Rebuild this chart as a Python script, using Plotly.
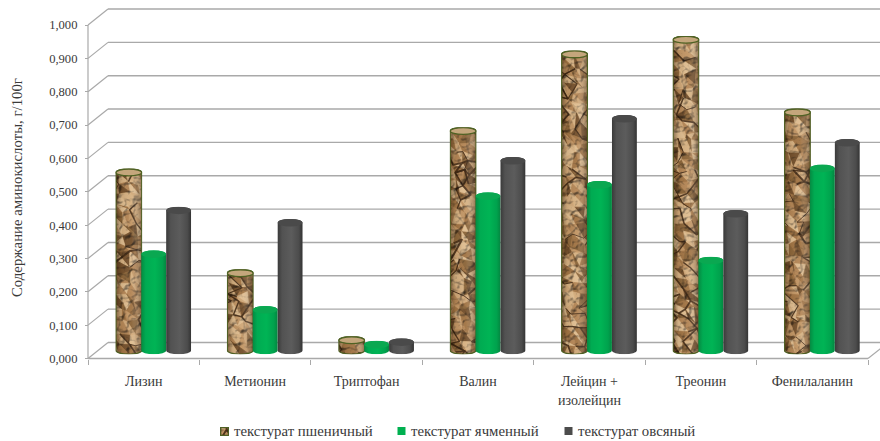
import base64
import math
import plotly.graph_objects as go

# Amino acid content of textured cereal products, g per 100 g
categories = ["Лизин", "Метионин", "Триптофан", "Валин", "Лейцин +<br>изолейцин", "Треонин", "Фенилаланин"]
wheat = [0.534, 0.232, 0.031, 0.658, 0.888, 0.932, 0.714]
barley = [0.289, 0.122, 0.018, 0.463, 0.497, 0.270, 0.546]
oat = [0.420, 0.383, 0.025, 0.569, 0.695, 0.410, 0.623]
series_names = ["текстурат пшеничный", "текстурат ячменный", "текстурат овсяный"]
y_ticks = [0.0, 0.1, 0.2, 0.3, 0.4, 0.5, 0.6, 0.7, 0.8, 0.9, 1.0]
y_title = "Содержание аминокислоты, г/100г"

W, H = 880, 441
AXIS_LEFT, AXIS_RIGHT = 88.0, 868.0
FLOOR_PX, TOP_PX = 358.5, 25.0
PX_X = (AXIS_RIGHT - AXIS_LEFT) / 7
PX_Y = FLOOR_PX - TOP_PX
DEPTH_X = 20 / PX_X
DEPTH_Y = 16 / PX_Y
XMIN = (0 - AXIS_LEFT) / PX_X - 0.5
XMAX = (W - AXIS_LEFT) / PX_X - 0.5
YMAX = FLOOR_PX / PX_Y
YMIN = (FLOOR_PX - H) / PX_Y
BAR_BASE = DEPTH_Y / 2
BAR_STEP = 0.2235
GROUP_SHIFT = 0.09
CAP_RY = 3.8

FONT = "Liberation Serif"
TEXT = "#3a3a3a"
GRID = "#a9a9a9"

# Softens the facets and adds fine surface relief
SOFTEN = """<filter id="f" x="0" y="0" width="100%" height="100%" color-interpolation-filters="sRGB">
<feGaussianBlur in="SourceGraphic" stdDeviation="0.6" result="b"/>
<feTurbulence type="fractalNoise" baseFrequency="0.16" numOctaves="2" seed="{seed}" result="n"/>
<feDiffuseLighting in="n" surfaceScale="2.6" diffuseConstant="1.16" lighting-color="#ffffff" result="l"><feDistantLight azimuth="235" elevation="60"/></feDiffuseLighting>
<feBlend in="b" in2="l" mode="multiply"/>
</filter>"""

FACET_TONES = ["#dfbd90", "#d0a878", "#c29665", "#b48656", "#a17444", "#8b6539", "#d6b182", "#74502c"]


def facets(w, h, seed):
    """Crumpled surface: a jittered mesh of tan facets crossed by dark creases."""
    state = seed * 2654435761 % 4294967296

    def step():
        nonlocal state
        state = (state * 1664525 + 1013904223) % 4294967296
        return state / 4294967296

    cx, cy = 8.5, 10.0
    nx, ny = math.ceil(w / cx) + 2, math.ceil(h / cy) + 2
    pts = [[((i - 0.5) * cx + (step() - 0.5) * 7, (j - 0.5) * cy + (step() - 0.5) * 8) for j in range(ny)] for i in range(nx)]
    out = []
    for i in range(nx - 1):
        for j in range(ny - 1):
            a, b, c, d = pts[i][j], pts[i + 1][j], pts[i + 1][j + 1], pts[i][j + 1]
            for tri in ((a, b, c), (a, c, d)):
                tone = FACET_TONES[int(step() * len(FACET_TONES))]
                p = " ".join(f"{x:.1f},{y:.1f}" for x, y in tri)
                out.append(f'<polygon points="{p}" fill="{tone}" stroke="{tone}" stroke-width="0.6"/>')
    # Creases wander down and across the mesh as connected polylines
    for start in range(max(3, int(h / 14))):
        i, j = int(step() * nx), int(step() * ny)
        run = [pts[i][j]]
        for _ in range(3 + int(step() * 3)):
            i = min(nx - 1, max(0, i + (1 if step() > 0.5 else -1)))
            j = min(ny - 1, max(0, j + (1 if step() > 0.35 else 0)))
            run.append(pts[i][j])
        p = " ".join(f"{x:.1f},{y:.1f}" for x, y in run)
        width = 0.9 + step() * 1.1
        out.append(f'<polyline points="{p}" fill="none" stroke="#3c2410" stroke-width="{width:.1f}" stroke-opacity="0.85" stroke-linejoin="round"/>')
    return "".join(out)


def uri(svg):
    return "data:image/svg+xml;base64," + base64.b64encode(svg.encode("utf-8")).decode("ascii")


def shade(idn, stops):
    body = "".join(f'<stop offset="{o}" stop-color="{c}" stop-opacity="{a}"/>' for o, c, a in stops)
    return f'<linearGradient id="{idn}" x1="0" x2="1" y1="0" y2="0">{body}</linearGradient>'


def cylinder(w, h, kind, seed=1):
    """Cylinder artwork: curved body with side shading and an elliptical top."""
    rx = w / 2 - 0.6
    x0, x1 = 0.6, w - 0.6
    ry = CAP_RY
    path = f"M{x0},{ry} L{x0},{h-ry} A{rx},{ry} 0 0 0 {x1},{h-ry} L{x1},{ry} A{rx},{ry} 0 0 0 {x0},{ry} Z"
    head = f'<svg xmlns="http://www.w3.org/2000/svg" width="{w}" height="{h}" viewBox="0 0 {w} {h}">'
    if kind == "wheat":
        defs = SOFTEN.format(seed=seed) + shade(
            "g", [(0, "#2a1a08", 0.5), (0.22, "#2a1a08", 0.08), (0.6, "#ffffff", 0.04), (1, "#2a1a08", 0.45)]
        )
        return (
            head + f'<defs>{defs}<clipPath id="p"><path d="{path}"/></clipPath></defs>'
            f'<g clip-path="url(#p)"><g filter="url(#f)"><rect width="{w}" height="{h}" fill="#c29665"/>{facets(w, h, seed)}</g>'
            f'<rect width="{w}" height="{h}" fill="url(#g)"/></g>'
            f'<path d="{path}" fill="none" stroke="#4f5f24" stroke-width="1.2"/>'
            f'<ellipse cx="{w/2}" cy="{ry}" rx="{rx}" ry="{ry-0.4}" fill="#c4a67c" stroke="#4f6224" stroke-width="1.3"/>'
            "</svg>"
        )
    if kind == "barley":
        stops = [(0, "#058a42", 1), (0.18, "#00ab52", 1), (0.55, "#00b455", 1), (0.85, "#00a24d", 1), (1, "#048640", 1)]
        cap = "#0aa851"
    else:
        stops = [(0, "#3a3a3a", 1), (0.18, "#525252", 1), (0.55, "#5c5c5c", 1), (0.85, "#4c4c4c", 1), (1, "#343434", 1)]
        cap = "#4a4a4a"
    return (
        head + f'<defs>{shade("g", stops)}</defs><path d="{path}" fill="url(#g)"/>'
        f'<ellipse cx="{w/2}" cy="{ry}" rx="{rx}" ry="{ry}" fill="{cap}"/></svg>'
    )


def wheat_swatch(size, seed):
    """Small square key with the same surface as the wheat cylinders."""
    return (
        f'<svg xmlns="http://www.w3.org/2000/svg" width="{size}" height="{size}" viewBox="0 0 {size} {size}">'
        f'<defs>{SOFTEN.format(seed=seed)}</defs><g filter="url(#f)"><rect width="{size}" height="{size}" fill="#b08f63"/>{facets(size, size, seed)}</g>'
        f'<rect x="0.6" y="0.6" width="{size-1.2}" height="{size-1.2}" fill="none" stroke="#4f5f24" stroke-width="1.2"/></svg>'
    )


fig = go.Figure()
shapes = []
images = []
annotations = []

# Chart walls: each gridline runs across the left wall and along the back wall
for v in y_ticks:
    shapes.append(dict(type="line", xref="x", yref="y", x0=-0.5, y0=v, x1=-0.5 + DEPTH_X, y1=v + DEPTH_Y,
                       line=dict(color=GRID, width=1.2), layer="below"))
    shapes.append(dict(type="line", xref="x", yref="y", x0=-0.5 + DEPTH_X, y0=v + DEPTH_Y, x1=XMAX, y1=v + DEPTH_Y,
                       line=dict(color=GRID, width=1.4), layer="below"))
shapes.append(dict(type="line", xref="x", yref="y", x0=-0.5, y0=0, x1=-0.5, y1=1,
                   line=dict(color=GRID, width=1.2), layer="below"))
shapes.append(dict(type="line", xref="x", yref="y", x0=-0.5, y0=0, x1=6.5, y1=0,
                   line=dict(color=GRID, width=1.4), layer="below"))
shapes.append(dict(type="line", xref="x", yref="y", x0=6.5, y0=0, x1=6.5 + DEPTH_X, y1=DEPTH_Y,
                   line=dict(color=GRID, width=1.2), layer="below"))

series = [("wheat", wheat, "#b08f63", 27), ("barley", barley, "#00b050", 26), ("oat", oat, "#4c4c4c", 26)]
for s, (kind, values, colour, w_px) in enumerate(series):
    xs = [i + GROUP_SHIFT + (s - 1) * BAR_STEP for i in range(len(categories))]
    fig.add_trace(go.Bar(x=xs, y=values, base=BAR_BASE, width=(w_px - 2) / PX_X, name=series_names[s],
                         marker=dict(color=colour, line=dict(width=0)), showlegend=False,
                         hovertemplate="%{y:.3f}<extra>" + series_names[s] + "</extra>"))
    for i, (x, v) in enumerate(zip(xs, values)):
        h_px = v * PX_Y + 2 * CAP_RY
        svg = cylinder(w_px, round(h_px, 2), kind, seed=3 + 7 * i)
        images.append(dict(source=uri(svg), xref="x", yref="y", x=x - w_px / 2 / PX_X,
                           y=BAR_BASE + v + CAP_RY / PX_Y, sizex=w_px / PX_X, sizey=h_px / PX_Y,
                           xanchor="left", yanchor="top", sizing="stretch", layer="above"))

# Legend row along the bottom
legend_swatch_px = [220, 397.5, 564.5]
legend_text_px = [232, 409, 576]
legend_y_px = 431
for s, name in enumerate(series_names):
    x0, y0 = legend_swatch_px[s], legend_y_px - 4
    if s == 0:
        images.append(dict(source=uri(wheat_swatch(9, 11)), xref="paper", yref="paper", x=x0 / W, y=1 - y0 / H,
                           sizex=9 / W, sizey=9 / H, xanchor="left", yanchor="top", sizing="stretch", layer="above"))
    else:
        shapes.append(dict(type="rect", xref="paper", yref="paper", x0=x0 / W, x1=(x0 + 8) / W,
                           y0=1 - y0 / H, y1=1 - (y0 + 8) / H, line=dict(width=0),
                           fillcolor=series[s][2]))
    annotations.append(dict(text=name, xref="paper", yref="paper", x=legend_text_px[s] / W, y=1 - legend_y_px / H,
                            xanchor="left", yanchor="middle", showarrow=False,
                            font=dict(family=FONT, size=14.8, color=TEXT)))

annotations.append(dict(text=y_title, xref="paper", yref="paper", x=17 / W, y=1 - 188 / H, textangle=-90,
                        xanchor="center", yanchor="middle", showarrow=False,
                        font=dict(family=FONT, size=14.8, color=TEXT)))

fig.update_layout(
    width=W, height=H, margin=dict(l=0, r=0, t=0, b=0, pad=0),
    paper_bgcolor="white", plot_bgcolor="white", barmode="overlay", separators=",.",
    showlegend=False, shapes=shapes, images=images, annotations=annotations,
    font=dict(family=FONT, size=12, color=TEXT),
    xaxis=dict(range=[XMIN, XMAX], domain=[0, 1], anchor="free", position=1 - FLOOR_PX / H,
               tickmode="array", tickvals=list(range(len(categories))), ticktext=categories,
               ticks="outside", ticklen=10, tickcolor="rgba(0,0,0,0)", showgrid=False, zeroline=False,
               showline=False, tickfont=dict(family=FONT, size=14, color=TEXT),
               minor=dict(tickmode="array", tickvals=[i - 0.5 for i in range(len(categories) + 1)],
                          ticks="outside", ticklen=5, tickcolor=GRID, tickwidth=1, showgrid=False)),
    yaxis=dict(range=[YMIN, YMAX], domain=[0, 1], anchor="free", position=AXIS_LEFT / W,
               tickmode="array", tickvals=y_ticks, tickformat=".3f", ticks="outside", ticklen=3,
               tickcolor=GRID, showgrid=False, zeroline=False, showline=False, ticklabelstandoff=5,
               tickfont=dict(family=FONT, size=12.6, color=TEXT)),
)

fig.write_html("out.html", config={"displayModeBar": False})
